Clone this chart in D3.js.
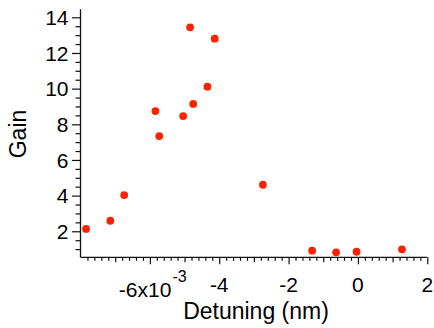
<!DOCTYPE html>
<html>
<head>
<meta charset="utf-8">
<script src="https://cdn.jsdelivr.net/npm/d3@7"></script>
<style>
  html, body { margin: 0; padding: 0; background: #fff; }
  svg { display: block; }
  text { font-family: "Liberation Sans", Arial, sans-serif; fill: #000; }
</style>
</head>
<body>
<svg id="chart" width="434" height="328"></svg>
<script>
// ---- data ----
const detuning = [-7.84, -7.14, -6.74, -5.84, -5.73, -5.04, -4.84, -4.75, -4.34, -4.13, -2.74, -1.32, -0.63, -0.04, 1.27];
const gain     = [2.13, 2.59, 4.03, 8.74, 7.34, 8.46, 13.44, 9.14, 10.11, 12.80, 4.61, 0.91, 0.82, 0.85, 0.99];
const xTickValues = [-6, -4, -2, 0, 2];
const xTickLabels = ["-6x10", "-4", "-2", "0", "2"];
const xExponent = "-3";
const yTickValues = [2, 4, 6, 8, 10, 12, 14];
const yTickLabels = ["2", "4", "6", "8", "10", "12", "14"];
const xTitle = "Detuning (nm)";
const yTitle = "Gain";

// ---- layout ----
const svg = d3.select("#chart");
const x = d3.scaleLinear().domain([-8, 2]).range([80.5, 427.3]);
const y = d3.scaleLinear().domain([0.54, 14.45]).range([257.3, 9.3]);
const axisColor = "#111";

// x axis ticks
const xMinor = d3.range(-7.8, 2.0001, 0.2).map(v => +v.toFixed(1)).filter(v => Math.abs(v - Math.round(v)) > 1e-6);
const xMedium = [-7, -5, -3, -1, 1];
const gx = svg.append("g").attr("transform", `translate(0,${y.range()[0]})`);
function styleAxis(g) {
  g.select(".domain").remove();
  g.selectAll("line").attr("stroke", axisColor).attr("stroke-width", 1.2);
  g.selectAll("text").remove();
}
gx.append("g").call(d3.axisBottom(x).tickValues(xMinor).tickSize(3.5).tickFormat("")).call(styleAxis);
gx.append("g").call(d3.axisBottom(x).tickValues(xMedium).tickSize(5).tickFormat("")).call(styleAxis);
gx.append("g").call(d3.axisBottom(x).tickValues(xTickValues).tickSize(7).tickFormat("")).call(styleAxis);

// y axis ticks
const yMinor = d3.range(1, 14.0001, 0.5).filter(v => v % 2 !== 0);
const gy = svg.append("g").attr("transform", `translate(${x.range()[0]},0)`);
gy.append("g").call(d3.axisLeft(y).tickValues(yMinor).tickSize(5).tickFormat("")).call(styleAxis);
gy.append("g").call(d3.axisLeft(y).tickValues(yTickValues).tickSize(8.5).tickFormat("")).call(styleAxis);

// axis lines
svg.append("line")
  .attr("x1", x.range()[0]).attr("x2", x.range()[1])
  .attr("y1", y.range()[0]).attr("y2", y.range()[0])
  .attr("stroke", axisColor).attr("stroke-width", 1.3);
svg.append("line")
  .attr("x1", x.range()[0]).attr("x2", x.range()[0])
  .attr("y1", y.range()[0]).attr("y2", y.range()[1])
  .attr("stroke", axisColor).attr("stroke-width", 1.3);

// x tick labels
xTickValues.forEach((v, i) => {
  if (i === 0) {
    const t = svg.append("text")
      .attr("x", x(v) - 31).attr("y", 297)
      .attr("font-size", 21)
      .attr("text-anchor", "start")
      .text(xTickLabels[i]);
    t.append("tspan").attr("font-size", 16).attr("dy", -15.5).attr("dx", 1).text(xExponent);
  } else {
    svg.append("text")
      .attr("x", x(v)).attr("y", 291.7)
      .attr("font-size", 21)
      .attr("text-anchor", "middle")
      .text(xTickLabels[i]);
  }
});

// y tick labels
yTickValues.forEach((v, i) => {
  svg.append("text")
    .attr("x", 68.5).attr("y", y(v) + 7.6)
    .attr("font-size", 21)
    .attr("text-anchor", "end")
    .text(yTickLabels[i]);
});

// titles
svg.append("text")
  .attr("x", 256).attr("y", 319.3)
  .attr("font-size", 23)
  .attr("text-anchor", "middle")
  .text(xTitle);
svg.append("text")
  .attr("transform", `translate(25.8,134) rotate(-90)`)
  .attr("font-size", 23)
  .attr("text-anchor", "middle")
  .text(yTitle);

// points
svg.append("g").selectAll("circle")
  .data(detuning.map((d, i) => [d, gain[i]]))
  .join("circle")
  .attr("cx", d => x(d[0]))
  .attr("cy", d => y(d[1]))
  .attr("r", 3.9)
  .attr("fill", "#ff2200");
</script>
</body>
</html>
